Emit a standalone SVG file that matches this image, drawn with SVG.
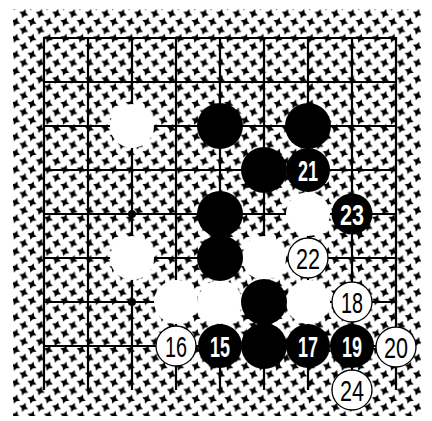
<svg xmlns="http://www.w3.org/2000/svg" width="432" height="421" viewBox="0 0 432 421">
<style>
.grid line{stroke:#000;stroke-width:2.2}
.b{fill:#000}
.w{fill:#fff}
.wl{fill:#fff;stroke:#000;stroke-width:1.3}
.tw{font-family:"Liberation Sans",Arial,sans-serif;font-size:30px;fill:#000;text-anchor:middle}
.tb{font-family:"Liberation Sans",Arial,sans-serif;font-size:30px;font-weight:bold;fill:#fff;text-anchor:middle}
</style>
<defs>
<path id="st" d="M0,-4.8 L1.8,-1.5 L4.8,0 L1.5,1.8 L0,4.8 L-1.8,1.5 L-4.8,0 L-1.5,-1.8 Z" transform="rotate(20)"/>
<pattern id="pat" patternUnits="userSpaceOnUse" x="-0.8" y="5.5" width="16.4" height="16.4">
<use href="#st" x="0" y="0"/>
<use href="#st" x="16.4" y="0"/>
<use href="#st" x="0" y="16.4"/>
<use href="#st" x="16.4" y="16.4"/>
<use href="#st" x="8.2" y="8.2"/>
</pattern>
</defs>
<rect width="432" height="421" fill="#fff"/>
<rect x="13" y="9" width="408" height="407" fill="url(#pat)"/>
<g id="connectors" class="grid">
<line x1="44" y1="38" x2="396" y2="38"/>
<line x1="44" y1="82" x2="396" y2="82"/>
<line x1="44" y1="126" x2="396" y2="126"/>
<line x1="44" y1="170" x2="396" y2="170"/>
<line x1="44" y1="214" x2="396" y2="214"/>
<line x1="44" y1="258" x2="396" y2="258"/>
<line x1="44" y1="302" x2="396" y2="302"/>
<line x1="44" y1="346" x2="396" y2="346"/>
<line x1="44" y1="37" x2="44" y2="390"/>
<line x1="88" y1="38" x2="88" y2="390"/>
<line x1="132" y1="38" x2="132" y2="390"/>
<line x1="176" y1="38" x2="176" y2="390"/>
<line x1="220" y1="38" x2="220" y2="390"/>
<line x1="264" y1="38" x2="264" y2="390"/>
<line x1="308" y1="38" x2="308" y2="390"/>
<line x1="352" y1="38" x2="352" y2="390"/>
<line x1="396" y1="37" x2="396" y2="390"/>
<circle cx="132" cy="214" r="4" fill="#000"/>
<circle cx="132" cy="302" r="4" fill="#000"/>
</g>
<g id="white-stones">
<circle id="w1" class="w" cx="132" cy="126" r="22"/>
<circle id="w2" class="w" cx="308" cy="214" r="22"/>
<circle id="w3" class="w" cx="132" cy="258" r="22"/>
<circle id="w4" class="w" cx="264" cy="258" r="22"/>
<circle id="w5" class="w" cx="176" cy="302" r="22"/>
<circle id="w6" class="w" cx="220" cy="302" r="22"/>
<circle id="w7" class="w" cx="308" cy="302" r="22"/>
</g>
<g id="black-stones">
<circle id="b1" class="b" cx="220" cy="126" r="23"/>
<circle id="b2" class="b" cx="308" cy="126" r="23"/>
<circle id="b3" class="b" cx="264" cy="170" r="23"/>
<circle id="b4" class="b" cx="220" cy="214" r="23"/>
<circle id="b5" class="b" cx="220" cy="258" r="23"/>
<circle id="b6" class="b" cx="264" cy="302" r="23"/>
<circle id="b7" class="b" cx="264" cy="346" r="23"/>
</g>
<g id="m15"><circle class="b" cx="220" cy="346" r="22"/><text class="tb" x="220" y="357" textLength="20" lengthAdjust="spacingAndGlyphs">15</text></g>
<g id="m16"><circle class="wl" cx="176" cy="346" r="20"/><text class="tw" x="176" y="357" textLength="22" lengthAdjust="spacingAndGlyphs">16</text></g>
<g id="m17"><circle class="b" cx="308" cy="346" r="22"/><text class="tb" x="308" y="357" textLength="20" lengthAdjust="spacingAndGlyphs">17</text></g>
<g id="m18"><circle class="wl" cx="352" cy="302" r="20"/><text class="tw" x="352" y="313" textLength="22" lengthAdjust="spacingAndGlyphs">18</text></g>
<g id="m19"><circle class="b" cx="352" cy="346" r="22"/><text class="tb" x="352" y="357" textLength="20" lengthAdjust="spacingAndGlyphs">19</text></g>
<g id="m20"><circle class="wl" cx="396" cy="347" r="20"/><text class="tw" x="396" y="358" textLength="24" lengthAdjust="spacingAndGlyphs">20</text></g>
<g id="m21"><circle class="b" cx="308" cy="170" r="22"/><text class="tb" x="308" y="181" textLength="20" lengthAdjust="spacingAndGlyphs">21</text></g>
<g id="m22"><circle class="wl" cx="308" cy="258" r="20"/><text class="tw" x="308" y="269" textLength="24" lengthAdjust="spacingAndGlyphs">22</text></g>
<g id="m23"><circle class="b" cx="352" cy="214" r="20.5"/><text class="tb" x="352" y="225" textLength="24" lengthAdjust="spacingAndGlyphs">23</text></g>
<g id="m24"><circle class="wl" cx="352" cy="390" r="20"/><text class="tw" x="352" y="401" textLength="24" lengthAdjust="spacingAndGlyphs">24</text></g>
</svg>
